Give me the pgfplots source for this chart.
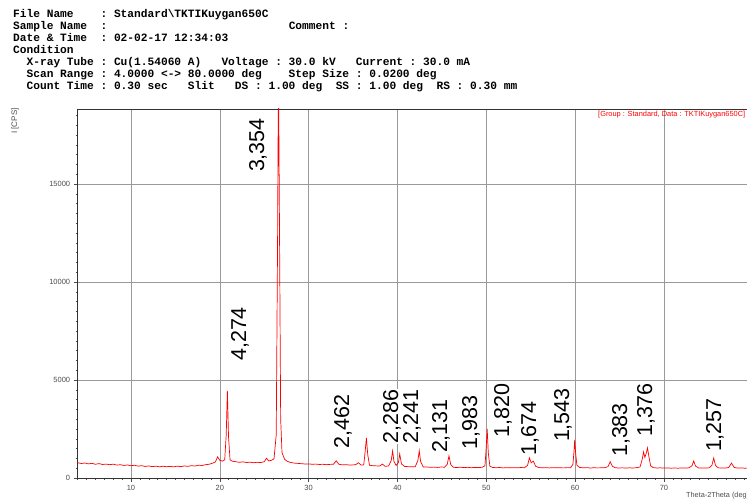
\documentclass[border=0pt]{standalone}
\usepackage{fontspec}
\setmainfont{Liberation Sans}
\setmonofont{Liberation Mono}
\usepackage{pgfplots}
\pgfplotsset{compat=1.18}
\begin{document}
\begin{tikzpicture}
\path[use as bounding box] (0pt,0pt) rectangle (747pt,499pt);
\clip (0pt,0pt) rectangle (747pt,499pt);
\begin{scope}[every node/.style={anchor=base west, inner sep=0pt, font=\fontsize{11.2}{12}\selectfont\ttfamily\bfseries}]
\node at (13pt,481.5pt) {File~Name~~~~:~Standard\textbackslash TKTIKuygan650C};
\node at (13pt,469.5pt) {Sample~Name~~:~~~~~~~~~~~~~~~~~~~~~~~~~~~Comment~:};
\node at (13pt,457.5pt) {Date~\&~Time~~:~02-02-17~12:34:03};
\node at (13pt,445.5pt) {Condition};
\node at (13pt,433.5pt) {~~X-ray~Tube~:~Cu(1.54060~A)~~~Voltage~:~30.0~kV~~~Current~:~30.0~mA};
\node at (13pt,421.5pt) {~~Scan~Range~:~4.0000~<->~80.0000~deg~~~~Step~Size~:~0.0200~deg};
\node at (13pt,409.5pt) {~~Count~Time~:~0.30~sec~~~Slit~~~DS~:~1.00~deg~~SS~:~1.00~deg~~RS~:~0.30~mm};
\end{scope}
\begin{axis}[
  at={(77.7pt,21pt)}, anchor=south west,
  scale only axis, width=675.1pt, height=369pt,
  xmin=4, xmax=80, ymin=0, ymax=18830,
  xtick={10,20,30,40,50,60,70},
  ytick={0,5000,10000,15000},
  scaled y ticks=false,
  minor xtick={4,5,...,80},
  minor ytick={0,500,...,18500},
  tick pos=left, tick align=outside,
  major tick length=4pt, minor tick length=2pt,
  every tick/.style={black!70, line width=0.5pt},
  grid=major,
  major grid style={black!40, line width=0.6pt},
  axis line style={black!80, line width=0.8pt},
  ticklabel style={font=\fontsize{7.5}{9}\selectfont, text=black!70},
  /pgf/number format/assume math mode=true,
  /pgf/number format/set thousands separator={},
  clip=true,
]
\addplot[red, line width=0.7pt] coordinates {
(4.0,780) (4.4,740) (4.8,765) (5.2,720) (5.6,750) (6.0,700) (6.4,735) (6.8,690) (7.2,710) (7.6,680)
(8.0,705) (8.4,660) (8.8,680) (9.2,640) (9.6,665) (10.0,625) (10.4,650) (10.8,605) (11.2,630) (11.6,590)
(12.0,615) (12.4,580) (12.8,605) (13.2,570) (13.6,600) (14.0,575) (14.4,595) (14.8,570) (15.2,605) (15.6,580)
(16.0,615) (16.4,595) (16.8,630) (17.2,610) (17.6,650) (18.0,640) (18.4,680) (18.8,700) (19.2,760) (19.5,820)
(19.75,1080) (20.0,900) (20.3,860) (20.55,930) (20.72,2200) (20.85,4450) (20.98,2100) (21.15,930) (21.4,860) (21.8,830)
(22.2,800) (22.6,825) (23.0,790) (23.4,810) (23.8,780) (24.2,800) (24.6,790) (25.0,830) (25.25,1010) (25.5,870)
(25.8,900) (26.1,980) (26.35,2200) (26.5,12000) (26.6,21000) (26.7,14000) (26.85,3000) (27.0,1300) (27.3,950) (27.6,850)
(28.0,790) (28.4,760) (28.8,745) (29.2,730) (29.6,715) (30.0,720) (30.4,700) (30.8,710) (31.2,690) (31.6,700)
(32.0,680) (32.4,695) (32.8,700) (33.1,880) (33.4,700) (33.8,670) (34.2,680) (34.6,660) (35.0,670) (35.3,680)
(35.6,780) (35.9,660) (36.2,670) (36.35,1300) (36.5,2050) (36.65,1200) (36.85,650) (37.2,630) (37.6,620) (38.0,610)
(38.3,710) (38.6,600) (39.0,610) (39.3,900) (39.45,1380) (39.6,850) (39.85,640) (40.1,780) (40.25,1230) (40.45,720)
(40.8,590) (41.2,580) (41.6,570) (42.0,575) (42.3,900) (42.45,1390) (42.6,850) (42.9,560) (43.3,565) (43.7,545)
(44.1,555) (44.5,540) (44.9,560) (45.3,550) (45.6,700) (45.8,1130) (46.0,680) (46.3,545) (46.7,535) (47.1,550)
(47.5,530) (47.9,545) (48.3,525) (48.7,540) (49.1,530) (49.5,545) (49.85,620) (49.98,1500) (50.1,2500) (50.22,1300)
(50.4,600) (50.7,540) (51.1,525) (51.5,535) (51.9,515) (52.3,530) (52.7,520) (53.1,530) (53.5,520) (53.9,535)
(54.3,525) (54.65,650) (54.85,1030) (55.05,780) (55.3,860) (55.55,600) (55.9,535) (56.3,520) (56.7,530) (57.1,515)
(57.5,530) (57.9,520) (58.3,525) (58.7,515) (59.1,530) (59.5,525) (59.75,700) (59.88,1400) (59.95,1950) (60.05,1300)
(60.2,650) (60.5,540) (60.9,520) (61.3,530) (61.7,510) (62.1,525) (62.5,515) (62.9,520) (63.3,525) (63.7,580)
(63.95,830) (64.2,600) (64.5,525) (64.9,510) (65.3,520) (65.7,505) (66.1,520) (66.5,510) (66.9,525) (67.3,560)
(67.55,950) (67.7,1330) (67.85,1050) (68.0,1250) (68.15,1540) (68.3,1100) (68.5,620) (68.8,530) (69.2,510) (69.6,520)
(70.0,505) (70.4,515) (70.8,500) (71.2,510) (71.6,500) (72.0,515) (72.4,505) (72.8,520) (73.15,620) (73.35,870)
(73.55,610) (73.9,510) (74.3,515) (74.7,505) (75.1,520) (75.4,650) (75.6,1020) (75.8,640) (76.1,520) (76.5,510)
(76.9,505) (77.3,540) (77.6,760) (77.9,540) (78.3,505) (78.7,515) (79.1,500) (79.5,510) (80.0,500)
};
\begin{scope}[every node/.style={rotate=90, fill=white, inner sep=1pt, font=\fontsize{21.5}{24}\selectfont}]
\node at (axis cs:24.3,16990) {3,354};
\node at (axis cs:22.27,7350) {4,274};
\node at (axis cs:33.87,2880) {2,462};
\node at (axis cs:39.38,3140) {2,286};
\node at (axis cs:41.63,3140) {2,241};
\node at (axis cs:44.9,2650) {2,131};
\node at (axis cs:48.28,2830) {1,983};
\node at (axis cs:51.88,3440) {1,820};
\node at (axis cs:54.92,2530) {1,674};
\node at (axis cs:58.63,3210) {1,543};
\node at (axis cs:65.16,2450) {1,383};
\node at (axis cs:67.98,3470) {1,376};
\node at (axis cs:75.75,2700) {1,257};
\end{scope}
\end{axis}
\node[anchor=base west, inner sep=0pt, text=red, font=\fontsize{7.4}{8}\selectfont] at (598pt,382pt) {[Group : Standard, Data : TKTIKuygan650C]};
\node[rotate=90, inner sep=0pt, text=black!70, font=\fontsize{8}{9}\selectfont] at (15pt,378pt) {I [CPS]};
\node[anchor=base west, inner sep=0pt, text=black!70, font=\fontsize{7.3}{8}\selectfont] at (686pt,2pt) {Theta-2Theta (deg)};
\end{tikzpicture}
\end{document}
